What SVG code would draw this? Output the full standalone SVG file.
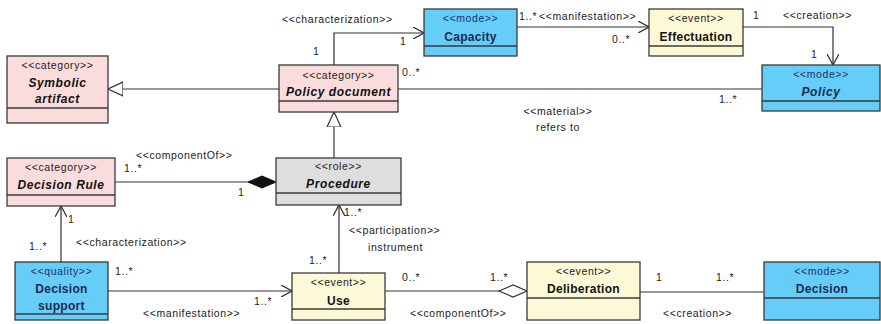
<svg xmlns="http://www.w3.org/2000/svg" width="881" height="324" viewBox="0 0 881 324">
<defs>
<style>
.box{stroke:#3a3a3a;stroke-width:1.3}
.pink{fill:#fbdcdc}
.blue{fill:#66ccf8}
.yel{fill:#fcfad6}
.gray{fill:#dedede}
.st{font-family:"Liberation Sans",Arial,sans-serif;font-size:10.5px;letter-spacing:0.6px;fill:#222;text-anchor:middle}
.stb{font-family:"Liberation Sans",Arial,sans-serif;font-size:10.5px;letter-spacing:0.6px;fill:#1e3070;text-anchor:middle}
.nm{font-family:"Liberation Sans",Arial,sans-serif;font-size:12px;letter-spacing:0.3px;font-weight:bold;fill:#111;text-anchor:middle}
.nmb{font-family:"Liberation Sans",Arial,sans-serif;font-size:12px;letter-spacing:0.3px;font-weight:bold;fill:#1a2a4e;text-anchor:middle}
.it{font-style:italic;letter-spacing:0.6px}
.lbl{font-family:"Liberation Sans",Arial,sans-serif;font-size:10.5px;letter-spacing:0.6px;fill:#222}
.ln{fill:none;stroke:#333;stroke-width:1.2}
</style>
<marker id="open" viewBox="0 0 12 12" refX="11" refY="6" markerWidth="12" markerHeight="12" markerUnits="userSpaceOnUse" orient="auto">
<path d="M0,0 L11,6 L0,12" fill="none" stroke="#333" stroke-width="1.3"/>
</marker>
<marker id="tri" viewBox="0 0 16 16" refX="15" refY="8" markerWidth="16" markerHeight="16" markerUnits="userSpaceOnUse" orient="auto">
<path d="M0,1 L15,8 L0,15 Z" fill="#fff" stroke="#333" stroke-width="1.2"/>
</marker>
</defs>
<rect width="881" height="324" fill="#fff"/>

<g id="connectors">
<!-- generalization Policy document -> Symbolic artifact -->
<line class="ln" x1="279" y1="89" x2="108" y2="89" marker-end="url(#tri)"/>
<!-- generalization Procedure -> Policy document -->
<line class="ln" x1="334" y1="158" x2="334" y2="112" marker-end="url(#tri)"/>
<!-- characterization Policy document -> Capacity -->
<polyline class="ln" points="334,65 334,33 424,33" marker-end="url(#open)"/>
<text class="lbl" x="282" y="23">&lt;&lt;characterization&gt;&gt;</text>
<text class="lbl" x="313" y="55">1</text>
<text class="lbl" x="400" y="45">1</text>
<!-- manifestation Capacity -> Effectuation -->
<line class="ln" x1="517" y1="27" x2="649" y2="27" marker-end="url(#open)"/>
<text class="lbl" x="519" y="20" letter-spacing="0">1..*</text>
<text class="lbl" x="539" y="20">&lt;&lt;manifestation&gt;&gt;</text>
<text class="lbl" x="612" y="43">0..*</text>
<!-- creation Effectuation -> Policy -->
<polyline class="ln" points="743,27 833,27 833,65" marker-end="url(#open)"/>
<text class="lbl" x="753" y="19">1</text>
<text class="lbl" x="783" y="19">&lt;&lt;creation&gt;&gt;</text>
<text class="lbl" x="811" y="58">1</text>
<!-- material Policy document - Policy -->
<line class="ln" x1="398" y1="89" x2="762" y2="89"/>
<text class="lbl" x="402" y="76">0..*</text>
<text class="lbl" x="719" y="103">1..*</text>
<text class="lbl" x="558" y="115" text-anchor="middle">&lt;&lt;material&gt;&gt;</text>
<text class="lbl" x="558" y="131" text-anchor="middle">refers to</text>
<!-- componentOf Decision Rule - Procedure (composition) -->
<line class="ln" x1="115" y1="182" x2="248" y2="182"/>
<path d="M248,182 L262,176 L276,182 L262,188 Z" fill="#111" stroke="#111" stroke-width="1"/>
<text class="lbl" x="136" y="159">&lt;&lt;componentOf&gt;&gt;</text>
<text class="lbl" x="124" y="172">1..*</text>
<text class="lbl" x="238" y="196">1</text>
<!-- characterization Decision support -> Decision Rule -->
<line class="ln" x1="61" y1="262" x2="61" y2="206" marker-end="url(#open)"/>
<text class="lbl" x="68" y="223">1</text>
<text class="lbl" x="29" y="250">1..*</text>
<text class="lbl" x="76" y="246">&lt;&lt;characterization&gt;&gt;</text>
<!-- manifestation Decision support -> Use -->
<line class="ln" x1="108" y1="291" x2="292" y2="291" marker-end="url(#open)"/>
<text class="lbl" x="115" y="275">1..*</text>
<text class="lbl" x="254" y="305">1..*</text>
<text class="lbl" x="143" y="317">&lt;&lt;manifestation&gt;&gt;</text>
<!-- participation Use -> Procedure -->
<line class="ln" x1="339" y1="273" x2="339" y2="205" marker-end="url(#open)"/>
<text class="lbl" x="344" y="216">1..*</text>
<text class="lbl" x="349" y="234">&lt;&lt;participation&gt;&gt;</text>
<text class="lbl" x="368" y="251">instrument</text>
<text class="lbl" x="309" y="264">1..*</text>
<!-- componentOf Use - Deliberation (aggregation) -->
<line class="ln" x1="385" y1="291" x2="499" y2="291"/>
<path d="M499,291 L513,285 L527,291 L513,297 Z" fill="#fff" stroke="#333" stroke-width="1.2"/>
<text class="lbl" x="402" y="281">0..*</text>
<text class="lbl" x="490" y="281">1..*</text>
<text class="lbl" x="410" y="317">&lt;&lt;componentOf&gt;&gt;</text>
<!-- creation Deliberation - Decision -->
<line class="ln" x1="640" y1="292" x2="764" y2="292"/>
<text class="lbl" x="656" y="281">1</text>
<text class="lbl" x="716" y="281">1..*</text>
<text class="lbl" x="663" y="317">&lt;&lt;creation&gt;&gt;</text>
</g>

<g id="symbolic-artifact">
<rect class="box pink" x="7" y="56" width="101" height="67"/>
<line class="box" x1="7" y1="108" x2="108" y2="108"/>
<text class="st" x="57.5" y="69">&lt;&lt;category&gt;&gt;</text>
<text class="nm it" x="57.5" y="87">Symbolic</text>
<text class="nm it" x="57.5" y="103">artifact</text>
</g>

<g id="policy-document">
<rect class="box pink" x="279" y="65" width="119" height="47"/>
<line class="box" x1="279" y1="101" x2="398" y2="101"/>
<text class="st" x="338.5" y="79">&lt;&lt;category&gt;&gt;</text>
<text class="nm it" x="338.5" y="96">Policy document</text>
</g>

<g id="capacity">
<rect class="box blue" x="424" y="9" width="93" height="47"/>
<line class="box" x1="424" y1="46" x2="517" y2="46"/>
<text class="stb" x="470.5" y="22">&lt;&lt;mode&gt;&gt;</text>
<text class="nmb" x="470.5" y="41">Capacity</text>
</g>

<g id="effectuation">
<rect class="box yel" x="649" y="9" width="94" height="47"/>
<line class="box" x1="649" y1="46" x2="743" y2="46"/>
<text class="st" x="696" y="22">&lt;&lt;event&gt;&gt;</text>
<text class="nm" x="696" y="41">Effectuation</text>
</g>

<g id="policy">
<rect class="box blue" x="762" y="65" width="118" height="46"/>
<line class="box" x1="762" y1="101" x2="880" y2="101"/>
<text class="stb" x="821" y="78">&lt;&lt;mode&gt;&gt;</text>
<text class="nmb it" x="821" y="96">Policy</text>
</g>

<g id="decision-rule">
<rect class="box pink" x="7" y="158" width="108" height="48"/>
<line class="box" x1="7" y1="195" x2="115" y2="195"/>
<text class="st" x="61" y="171">&lt;&lt;category&gt;&gt;</text>
<text class="nm it" x="61" y="189">Decision Rule</text>
</g>

<g id="procedure">
<rect class="box gray" x="276" y="158" width="125" height="47"/>
<line class="box" x1="276" y1="193" x2="401" y2="193"/>
<text class="st" x="338.5" y="170">&lt;&lt;role&gt;&gt;</text>
<text class="nm it" x="338.5" y="188">Procedure</text>
</g>

<g id="decision-support">
<rect class="box blue" x="15" y="262" width="93" height="58"/>
<line class="box" x1="15" y1="314" x2="108" y2="314"/>
<text class="stb" x="61.5" y="275">&lt;&lt;quality&gt;&gt;</text>
<text class="nmb" x="61.5" y="293">Decision</text>
<text class="nmb" x="61.5" y="310">support</text>
</g>

<g id="use">
<rect class="box yel" x="292" y="273" width="93" height="47"/>
<line class="box" x1="292" y1="309" x2="385" y2="309"/>
<text class="st" x="338.5" y="286">&lt;&lt;event&gt;&gt;</text>
<text class="nm" x="338.5" y="305">Use</text>
</g>

<g id="deliberation">
<rect class="box yel" x="527" y="262" width="113" height="58"/>
<line class="box" x1="527" y1="298" x2="640" y2="298"/>
<text class="st" x="583.5" y="275">&lt;&lt;event&gt;&gt;</text>
<text class="nm" x="583.5" y="293">Deliberation</text>
</g>

<g id="decision">
<rect class="box blue" x="764" y="262" width="116" height="58"/>
<line class="box" x1="764" y1="298" x2="880" y2="298"/>
<text class="stb" x="822" y="275">&lt;&lt;mode&gt;&gt;</text>
<text class="nmb" x="822" y="293">Decision</text>
</g>
</svg>
